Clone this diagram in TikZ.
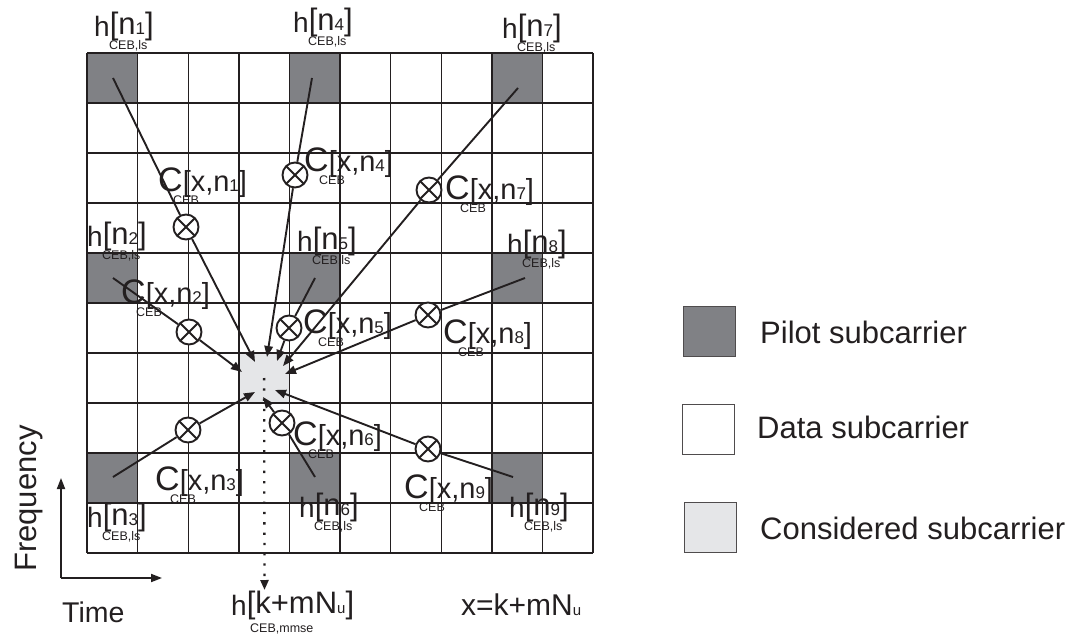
\documentclass[tikz,border=0pt]{standalone}
\usepackage{fontspec}
\setmainfont{Liberation Sans}
\usetikzlibrary{arrows.meta}
\definecolor{pil}{RGB}{128,129,133}
\definecolor{con}{RGB}{229,230,232}
\definecolor{ink}{RGB}{35,31,32}
\newcommand\fs[1]{\fontsize{#1bp}{#1bp}\selectfont}
\newcommand\hlab[2]{\rlap{\kern15bp\raisebox{-13bp}{\fs{12.5}#2}}{\fs{28}h}\raisebox{2bp}{\fs{31}[n{\fs{17}#1}]}}
\newcommand\clab[1]{\rlap{\kern15bp\raisebox{-13bp}{\fs{12.5}CEB}}{\fs{34}C}{\fs{29}[x,n{\fs{17}#1}]}}
\tikzset{
  gridline/.style={draw=ink, line width=1.4bp},
  conn/.style={draw=ink, line width=1.9bp},
  arr/.style={conn, -{Triangle[length=11bp,width=8.5bp]}},
  mult/.style={circle, draw=ink, line width=1.9bp, minimum size=25bp, inner sep=0pt, fill=white,
    path picture={\draw[ink, line width=1.9bp] (path picture bounding box.north west) -- (path picture bounding box.south east)
      (path picture bounding box.north east) -- (path picture bounding box.south west);}},
  lab/.style={anchor=base west, inner sep=0pt, text=ink},
  legbox/.style={draw=ink!80, line width=1bp, minimum width=52bp, minimum height=50bp, inner sep=0pt},
}
\begin{document}
\begin{tikzpicture}[x=1bp, y=-1bp]
\useasboundingbox (0,0) rectangle (1073,639);
% cells
\foreach \c in {0,4,8} \foreach \r in {0,4,8}
  \fill[pil] ({87+50.6*\c},{53+50*\r}) rectangle +(50.6,50);
\node[fill=con, minimum width=50.6bp, minimum height=50bp, inner sep=0pt] (cons) at ({87+50.6*3.5},{53+50*6.5}) {};
\foreach \i in {0,...,10} \draw[gridline] ({87+50.6*\i},53) -- ({87+50.6*\i},553);
\foreach \j in {0,...,10} \draw[gridline] (87,{53+50*\j}) -- (593,{53+50*\j});

% start points and arrow tips
\coordinate (p1) at (113,78);  \coordinate (t1) at (255,362);
\coordinate (p4) at (312,78);  \coordinate (t4) at (267,357);
\coordinate (p7) at (518,88);  \coordinate (t7) at (283,366);
\coordinate (p2) at (113,278); \coordinate (t2) at (242,372);
\coordinate (p5) at (315,278); \coordinate (t5) at (277,361);
\coordinate (p8) at (525,278); \coordinate (t8) at (285,374);
\coordinate (p3) at (113,477); \coordinate (t3) at (255,392);
\coordinate (p6) at (315,477); \coordinate (t6) at (263,397);
\coordinate (p9) at (513,477); \coordinate (t9) at (275,390);

% multipliers
\node[mult] (x1) at (186,227) {};
\node[mult] (x4) at (295,175) {};
\node[mult] (x7) at (429,190) {};
\node[mult] (x2) at (189,332) {};
\node[mult] (x5) at (289,328) {};
\node[mult] (x8) at (428,315) {};
\node[mult] (x3) at (188,430) {};
\node[mult] (x6) at (282,423) {};
\node[mult] (x9) at (428,449) {};

\foreach \k in {1,...,9} {
  \draw[conn] (p\k) -- (x\k);
  \draw[arr] (x\k) -- (t\k);
}

% h labels
\node[lab] (h1) at (94,37)  {\hlab{1}{CEB,ls}};
\node[lab] (h4) at (293,33) {\hlab{4}{CEB,ls}};
\node[lab] (h7) at (502,39) {\hlab{7}{CEB,ls}};
\node[lab] (h2) at (87,247) {\hlab{2}{CEB,ls}};
\node[lab] (h5) at (297,252) {\hlab{5}{CEB,ls}};
\node[lab] (h8) at (507,255) {\hlab{8}{CEB,ls}};
\node[lab] (h3) at (87,527) {\hlab{3}{CEB,ls}};
\node[lab] (h6) at (299,517) {\hlab{6}{CEB,ls}};
\node[lab] (h9) at (509,517) {\hlab{9}{CEB,ls}};

% C labels
\node[lab] (c1) at (158,192) {\clab{1}};
\node[lab] (c4) at (304,172) {\clab{4}};
\node[lab] (c7) at (445,200) {\clab{7}};
\node[lab] (c2) at (121,304) {\clab{2}};
\node[lab] (c5) at (303,333) {\clab{5}};
\node[lab] (c8) at (443,343) {\clab{8}};
\node[lab] (c3) at (155,490) {\clab{3}};
\node[lab] (c6) at (293,445) {\clab{6}};
\node[lab] (c9) at (404,498) {\clab{9}};

% MMSE output
\coordinate (dotend) at (264.5,590);
\draw[ink, line width=2.3bp, dash pattern=on 2.3bp off 8bp, -{Triangle[length=10bp,width=8bp]}] (cons.center) -- (dotend);
\node[lab] (hm) at (231,615) {\rlap{\kern19bp\raisebox{-17bp}{\fs{12.5}CEB,mmse}}{\fs{28}h}\raisebox{2bp}{\fs{31}[k+mN{\fs{15}u}]}};
\node[lab] (xeq) at (461,615) {\fs{30}x=k+mN{\fs{15}u}};

% axes
\coordinate (orig) at (61,578);
\coordinate (fup) at (61,478);
\coordinate (tright) at (162,578);
\draw[conn, -{Triangle[length=11bp,width=8bp]}] (orig) -- (fup);
\draw[conn, -{Triangle[length=11bp,width=8bp]}] (orig) -- (tright);
\node[lab, rotate=90] (freq) at (36,572) {\fs{31}Frequency};
\node[lab] (time) at (62,622) {\fs{28.5}Time};

% legend
\node[legbox, fill=pil] (lp) at (709,331.5) {};
\node[legbox, fill=white] (ld) at (708.5,429) {};
\node[legbox, fill=con] (lc) at (710,527) {};
\node[lab] (tp) at (760,343) {\fs{31}Pilot subcarrier};
\node[lab] (td) at (757,438) {\fs{31}Data subcarrier};
\node[lab] (tc) at (760,539) {\fs{31}Considered subcarrier};
\end{tikzpicture}
\end{document}
